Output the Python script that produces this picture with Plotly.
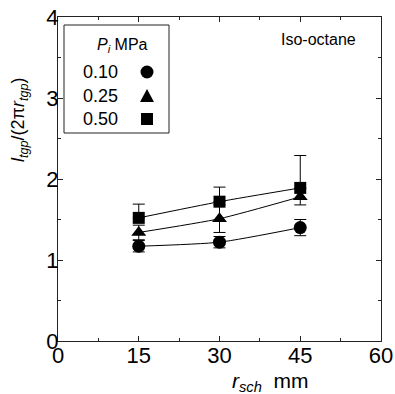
import plotly.graph_objects as go

r_sch = [15, 30, 45]
labels = ["0.10", "0.25", "0.50"]
symbols = ["circle", "triangle-up", "square"]
y_010 = [1.17, 1.22, 1.40]
e_010 = [0.07, 0.07, 0.10]
y_025 = [1.34, 1.51, 1.78]
e_025 = [0.09, 0.17, 0.10]
y_050 = [1.52, 1.72, 1.89]
e_050 = [0.17, 0.18, 0.40]
x_ticks = [0, 15, 30, 45, 60]
y_ticks = [0, 1, 2, 3, 4]

FONT = "Liberation Sans, Arial, sans-serif"
fig = go.Figure()

series = [
    (y_010, e_010, e_010, "circle", 13),
    (y_025, e_025, e_025, "triangle-up", 13),
    (y_050, e_050, [0, 0, 0], "square", 12),
]
for (ys, ep, em, sym, sz), lab in zip(series, labels):
    fig.add_trace(go.Scatter(
        x=r_sch, y=ys, name=lab, mode="lines+markers",
        line=dict(color="black", width=1, shape="spline", smoothing=0.6),
        marker=dict(symbol=sym, size=sz, color="black"),
        error_y=dict(type="data", symmetric=False, array=ep, arrayminus=em,
                     color="black", thickness=1, width=6),
        showlegend=False,
    ))

ax_common = dict(
    showline=True, linecolor="#222", linewidth=1, mirror="ticks",
    ticks="inside", ticklen=5, tickcolor="#222", tickwidth=1,
    showgrid=False, zeroline=False, automargin=False,
    ticklabeloverflow="allow",
    tickfont=dict(family=FONT, size=22, color="black"),
)
fig.update_xaxes(
    range=[0, 60], tickvals=x_ticks, ticktext=[str(v) for v in x_ticks],
    minor=dict(dtick=7.5, ticks="inside", ticklen=3, tickcolor="#222"),
    ticklabelstandoff=-5,
    **ax_common,
)
fig.update_yaxes(
    range=[0, 4], tickvals=y_ticks, ticktext=[str(v) for v in y_ticks],
    minor=dict(dtick=0.5, ticks="inside", ticklen=3, tickcolor="#222"),
    ticklabelstandoff=-6,
    **ax_common,
)

# plot area in page pixels: x 58..381, y 17..341 (body margin removed below)
PL, PR, PT, PB = 58, 381, 17, 341
W, H = 395, 394
L, T = PL, PT
R, B = W - PR, H - PB
pw, ph = PR - PL, PB - PT

def px(x):
    return (x - PL) / pw

def py(y):
    return (PB - y) / ph

def ann(text, x, y, size, **kw):
    return dict(text=text, x=px(x), y=py(y), xref="paper", yref="paper",
                xanchor="center", yanchor="middle", showarrow=False,
                font=dict(family=FONT, size=size, color="black"), **kw)

shapes = [dict(type="rect", xref="paper", yref="paper",
               x0=px(64), x1=px(169), y0=py(133), y1=py(25),
               line=dict(color="#222", width=1), fillcolor="white")]
annotations = [
    ann("<i>P</i><sub><i>i</i></sub> MPa", 122, 45, 16),
    ann("Iso-octane", 318, 40, 16),
    ann("<i>r</i><sub><i>sch</i></sub>  mm", 270, 382, 21),
    ann("<i>l</i><sub><i>tgp</i></sub>/(2π<i>r</i><sub><i>tgp</i></sub>)", 20, 120, 18, textangle=-90),
]
rows_y = [72, 96, 119]
for lab, ry, sym in zip(labels, rows_y, symbols):
    annotations.append(ann(lab, 100, ry, 18))
    cx, cy, r = 147, ry, 6.5
    if sym == "circle":
        shapes.append(dict(type="circle", xref="paper", yref="paper",
                           x0=px(cx - r), x1=px(cx + r), y0=py(cy + r), y1=py(cy - r),
                           fillcolor="black", line=dict(width=0)))
    elif sym == "square":
        shapes.append(dict(type="rect", xref="paper", yref="paper",
                           x0=px(cx - 6), x1=px(cx + 6), y0=py(cy + 6), y1=py(cy - 6),
                           fillcolor="black", line=dict(width=0)))
    else:
        p = f"M {px(cx-7)} {py(cy+6)} L {px(cx+7)} {py(cy+6)} L {px(cx)} {py(cy-7)} Z"
        shapes.append(dict(type="path", xref="paper", yref="paper", path=p,
                           fillcolor="black", line=dict(width=0)))

fig.update_layout(
    width=W, height=H, margin=dict(l=L, r=R, t=T, b=B),
    paper_bgcolor="white", plot_bgcolor="white",
    shapes=shapes, annotations=annotations, showlegend=False,
)
fig.write_html("out.html",
               config={"displayModeBar": False, "staticPlot": True},
               post_script="document.body.style.margin='0';document.body.style.overflow='hidden';")
